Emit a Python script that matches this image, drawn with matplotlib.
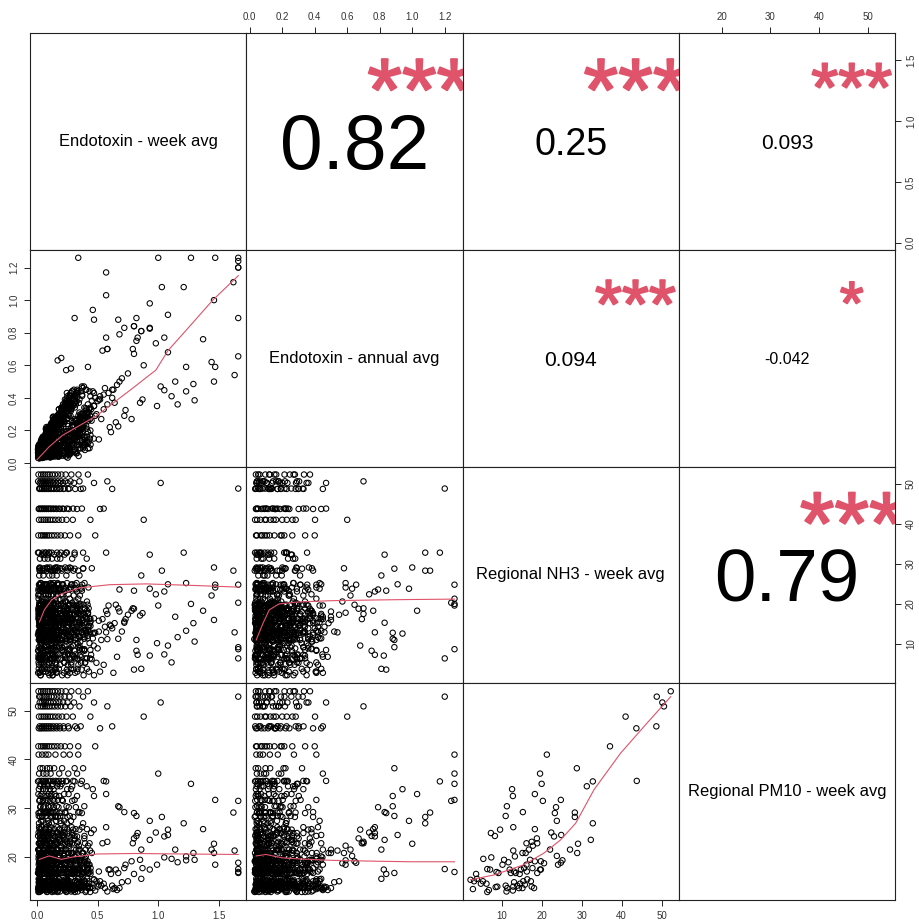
import matplotlib.pyplot as plt
from matplotlib.transforms import offset_copy
from matplotlib.font_manager import FontProperties
import matplotlib.patheffects as pe
import numpy as np

plt.rcParams['font.family'] = ['Liberation Sans', 'DejaVu Sans']

labels = ['Endotoxin - week avg', 'Endotoxin - annual avg',
          'Regional NH3 - week avg', 'Regional PM10 - week avg']

# regional weekly NH3 and PM10
nh3_week = [52.3, 48.8, 50.2, 50.6, 41.0, 43.7, 48.7, 37.1, 43.8, 21.3,
            28.8, 19.6, 31.3, 32.8, 20.0, 12.6, 12.8, 18.3, 24.8, 11.3,
            11.0, 15.3, 20.3, 23.6, 23.3, 23.8, 28.3, 28.3, 32.8, 32.3,
            29.1, 27.1, 24.9, 23.1, 22.4, 18.3, 12.9, 7.3, 8.3, 9.6,
            16.2, 17.5, 18.9, 18.8, 22.1, 24.1, 24.8, 25.2, 23.8, 19.8,
            20.6, 28.9, 17.8, 16.8, 15.2, 16.0, 12.9, 13.3, 10.6, 11.7,
            10.2, 5.4, 7.4, 17.1, 17.7, 18.3, 16.2, 15.6, 19.8, 18.9,
            14.8, 14.5, 13.1, 13.5, 12.3, 12.0, 9.2, 8.7, 6.4, 7.1,
            3.6, 3.8, 2.2, 3.1, 2.8, 5.3, 4.8, 6.2, 6.8, 6.4,
            8.9, 8.5, 11.0, 11.4, 11.2, 12.9, 13.1, 12.8, 13.9, 14.6,
            14.3, 15.4, 15.8, 15.2, 16.4, 17.3, 17.5, 18.1, 16.3, 19.6]
pm10_week = [54.0, 52.9, 51.7, 50.9, 48.8, 46.4, 46.8, 42.7, 35.6, 41.0,
             38.2, 37.1, 34.5, 35.5, 35.0, 33.9, 32.5, 32.9, 31.7, 30.4,
             28.4, 29.2, 31.5, 30.2, 29.0, 27.4, 29.1, 28.2, 26.9, 23.5,
             22.7, 21.5, 24.5, 24.2, 25.0, 25.7, 26.1, 24.9, 24.3, 25.6,
             22.8, 23.1, 22.8, 23.8, 21.5, 18.4, 18.8, 19.3, 20.2, 19.1,
             18.7, 20.8, 22.3, 21.5, 20.8, 20.8, 21.3, 20.1, 19.4, 18.9,
             18.4, 19.6, 19.9, 19.4, 17.7, 19.1, 18.4, 17.7, 17.4, 16.7,
             17.4, 16.5, 17.0, 16.7, 16.7, 17.4, 16.7, 16.9, 17.5, 17.4,
             16.5, 15.5, 15.3, 15.0, 13.4, 15.0, 14.5, 14.5, 13.2, 12.8,
             13.9, 13.8, 14.1, 13.6, 12.9, 13.9, 14.8, 13.1, 14.1, 14.5,
             13.6, 15.0, 14.3, 13.6, 15.4, 15.0, 13.9, 13.6, 17.0, 17.4]

# site endotoxin for each week: weekly value and the site's annual average
endo_week_obs = [
    [0.012, 0.034, 0.051, 0.068, 0.087, 0.104, 0.126, 0.148, 0.173, 0.201, 0.236, 0.283, 0.342, 0.42],
    [0.018, 0.027, 0.045, 0.063, 0.079, 0.097, 0.118, 0.139, 0.167, 0.194, 0.226, 0.268, 0.38, 1.66],
    [0.022, 0.039, 0.057, 0.074, 0.092, 0.111, 0.133, 0.158, 0.184, 0.215, 0.252, 0.305, 0.47, 1.02],
    [0.009, 0.031, 0.048, 0.066, 0.084, 0.102, 0.122, 0.145, 0.171, 0.198, 0.233, 0.276, 0.35, 0.58],
    [0.016, 0.036, 0.054, 0.071, 0.089, 0.108, 0.129, 0.152, 0.178, 0.207, 0.243, 0.295, 0.44, 0.88],
    [0.014, 0.029, 0.043, 0.061, 0.077, 0.095, 0.115, 0.137, 0.162, 0.189, 0.221, 0.262, 0.33, 0.52],
    [0.021, 0.041, 0.059, 0.076, 0.094, 0.113, 0.136, 0.161, 0.187, 0.218, 0.257, 0.315, 0.36, 0.62],
    [0.011, 0.033, 0.049, 0.065, 0.082, 0.099, 0.121, 0.143, 0.168, 0.196, 0.229, 0.272, 0.34, 0.48],
    [0.019, 0.037, 0.055, 0.072, 0.091, 0.109, 0.131, 0.154, 0.181, 0.211, 0.247, 0.298, 0.37, 0.55],
    [0.013, 0.042, 0.071, 0.094, 0.152, 0.219, 0.27, 0.34],
    [0.026, 0.047, 0.083, 0.106, 0.141, 0.207, 0.38, 0.31],
    [0.017, 0.052, 0.078, 0.112, 0.183, 0.258, 0.33, 1.00],
    [0.024, 0.061, 0.089, 0.123, 0.166, 0.192, 0.29, 0.41],
    [0.008, 0.046, 0.068, 0.101, 0.165, 0.238, 0.31, 0.57],
    [0.032, 0.057, 0.084, 0.129, 0.174, 0.203, 0.36, 1.27],
    [0.015, 0.049, 0.073, 0.106, 0.137, 0.249, 0.28, 0.46],
    [0.028, 0.062, 0.087, 0.114, 0.158, 0.182, 0.33, 0.47],
    [0.011, 0.038, 0.096, 0.119, 0.146, 0.224, 0.26, 0.57],
    [0.023, 0.053, 0.076, 0.131, 0.171, 0.206, 0.31, 1.47],
    [0.029, 0.058, 0.091, 0.114, 0.163, 0.243, 0.39, 0.67],
    [0.014, 0.044, 0.072, 0.125, 0.154, 0.191, 0.27, 0.82],
    [0.031, 0.066, 0.093, 0.118, 0.152, 0.232, 0.35, 0.72],
    [0.019, 0.048, 0.086, 0.109, 0.142, 0.213, 0.29, 1.66],
    [0.026, 0.051, 0.102, 0.138, 0.177, 0.262, 0.32, 0.68],
    [0.012, 0.063, 0.081, 0.116, 0.186, 0.234, 0.37, 0.80],
    [0.034, 0.047, 0.091, 0.157, 0.193, 0.223, 0.28, 0.93],
    [0.021, 0.056, 0.081, 0.128, 0.137, 0.203, 0.34, 1.62],
    [0.027, 0.043, 0.114, 0.148, 0.172, 0.251, 0.30, 1.03],
    [0.016, 0.072, 0.097, 0.121, 0.196, 0.246, 0.38, 1.21],
    [0.039, 0.061, 0.089, 0.143, 0.181, 0.227, 0.31, 0.93],
    [0.022, 0.082, 0.107, 0.153, 0.167, 0.232, 0.27, 1.46],
    [0.018, 0.052, 0.101, 0.126, 0.162, 0.242, 0.35, 0.86],
    [0.024, 0.064, 0.078, 0.112, 0.183, 0.214, 0.29, 1.08],
    [0.036, 0.049, 0.093, 0.151, 0.178, 0.224, 0.33, 1.05],
    [0.013, 0.073, 0.096, 0.132, 0.168, 0.202, 0.26, 0.98],
    [0.021, 0.063, 0.094, 0.142, 0.187, 0.25, 1.37, 0.318, 0.412],
    [0.017, 0.038, 0.076, 0.113, 0.167, 0.23, 0.57, 0.286, 0.372],
    [0.026, 0.052, 0.087, 0.124, 0.161, 0.29, 0.83, 0.227, 0.446],
    [0.009, 0.044, 0.091, 0.135, 0.209, 0.31, 0.82, 0.264, 0.391],
    [0.031, 0.071, 0.104, 0.182, 0.226, 0.35, 1.08, 0.297, 0.468],
    [0.014, 0.046, 0.082, 0.121, 0.214, 0.54, 0.29, 0.176, 0.433],
    [0.028, 0.066, 0.097, 0.151, 0.272, 0.58, 0.19, 0.338, 0.244],
    [0.019, 0.032, 0.073, 0.107, 0.144, 0.79, 0.33, 0.258, 0.396],
    [0.024, 0.057, 0.088, 0.132, 0.243, 0.80, 0.39, 0.192, 0.311],
    [0.011, 0.027, 0.092, 0.116, 0.302, 1.44, 0.21, 0.353, 0.168],
    [0.034, 0.042, 0.078, 0.126, 0.362, 1.47, 0.23, 0.281, 0.424],
    [0.016, 0.061, 0.083, 0.167, 0.281, 1.66, 0.12, 0.212, 0.373],
    [0.027, 0.033, 0.112, 0.139, 0.392, 1.23, 0.17, 0.247, 0.326],
    [0.013, 0.052, 0.074, 0.143, 0.312, 0.17, 0.22, 0.366, 0.188],
    [0.022, 0.026, 0.081, 0.106, 0.352, 0.20, 0.14, 0.273, 0.417],
    [0.035, 0.047, 0.122, 0.155, 0.412, 0.24, 0.09, 0.318, 0.229],
    [0.018, 0.062, 0.086, 0.152, 0.452, 0.28, 0.19, 0.254, 0.381],
    [0.029, 0.036, 0.103, 0.128, 0.263, 0.42, 0.07, 0.345, 0.197],
    [0.012, 0.053, 0.137, 0.172, 0.323, 1.14, 0.11, 0.236, 0.402],
    [0.025, 0.029, 0.093, 0.117, 0.372, 1.29, 0.16, 0.291, 0.219],
    [0.037, 0.043, 0.121, 0.148, 0.293, 1.46, 0.08, 0.379, 0.262],
    [0.015, 0.067, 0.084, 0.163, 0.343, 1.63, 0.20, 0.227, 0.438],
    [0.023, 0.034, 0.114, 0.136, 0.402, 1.23, 0.13, 0.309, 0.184],
    [0.032, 0.056, 0.073, 0.146, 0.274, 1.30, 0.10, 0.357, 0.241],
    [0.019, 0.024, 0.082, 0.127, 0.353, 1.16, 0.18, 0.269, 0.392],
    [0.028, 0.041, 0.126, 0.157, 0.433, 0.99, 0.12, 0.203, 0.334],
    [0.013, 0.061, 0.097, 0.152, 0.225, 1.11, 0.283, 0.398],
    [0.034, 0.039, 0.102, 0.134, 0.256, 1.05, 0.317, 0.176],
    [0.021, 0.052, 0.091, 0.132, 0.302, 0.85, 0.21, 0.362, 0.248],
    [0.017, 0.025, 0.093, 0.116, 0.382, 0.87, 0.15, 0.236, 0.419],
    [0.036, 0.043, 0.123, 0.141, 0.253, 0.78, 0.09, 0.327, 0.193],
    [0.014, 0.062, 0.081, 0.163, 0.323, 0.73, 0.18, 0.271, 0.407],
    [0.027, 0.031, 0.112, 0.138, 0.442, 0.72, 0.14, 0.219, 0.351],
    [0.021, 0.054, 0.074, 0.142, 0.263, 0.65, 0.11, 0.384, 0.297],
    [0.011, 0.023, 0.087, 0.124, 0.333, 0.67, 0.19, 0.249, 0.426],
    [0.038, 0.046, 0.121, 0.154, 0.293, 0.60, 0.08, 0.352, 0.215],
    [0.016, 0.063, 0.096, 0.152, 0.373, 0.61, 0.17, 0.288, 0.441],
    [0.029, 0.032, 0.103, 0.127, 0.242, 0.51, 0.13, 0.318, 0.176],
    [0.022, 0.051, 0.134, 0.164, 0.313, 0.42, 0.10, 0.237, 0.389],
    [0.008, 0.024, 0.092, 0.118, 0.222, 0.38, 0.16, 0.302, 0.263],
    [0.033, 0.044, 0.122, 0.147, 0.343, 0.225, 0.07, 0.274, 0.416],
    [0.015, 0.061, 0.084, 0.163, 0.282, 1.66, 0.14, 0.342, 0.206],
    [0.026, 0.033, 0.113, 0.136, 0.392, 1.66, 0.09, 0.259, 0.371],
    [0.019, 0.052, 0.072, 0.144, 0.272, 1.66, 0.20, 0.329, 0.412],
    [0.012, 0.023, 0.083, 0.126, 0.352, 0.93, 0.15, 0.231, 0.298],
    [0.037, 0.042, 0.122, 0.153, 0.302, 0.80, 0.11, 0.367, 0.246],
    [0.014, 0.063, 0.094, 0.151, 0.412, 0.86, 0.18, 0.279, 0.335],
    [0.028, 0.031, 0.102, 0.127, 0.252, 0.47, 0.13, 0.384, 0.207],
    [0.022, 0.052, 0.131, 0.162, 0.332, 0.52, 0.07, 0.251, 0.428],
    [0.009, 0.021, 0.093, 0.117, 0.223, 0.63, 0.16, 0.314, 0.271],
    [0.032, 0.043, 0.122, 0.149, 0.363, 0.49, 0.10, 0.226, 0.395],
    [0.016, 0.058, 0.087, 0.158, 0.282, 0.55, 0.19, 0.341, 0.253],
    [0.024, 0.034, 0.108, 0.139, 0.342, 0.45, 0.12, 0.276, 0.187],
    [0.019, 0.047, 0.068, 0.142, 0.232, 0.66, 0.09, 0.367, 0.304],
    [0.011, 0.019, 0.081, 0.124, 0.312, 0.40, 0.17, 0.243, 0.438],
    [0.035, 0.044, 0.115, 0.19, 0.27, 0.50, 0.13, 0.352, 0.214],
    [0.013, 0.062, 0.085, 0.152, 0.35, 0.44, 0.21, 0.268, 0.387],
    [0.028, 0.033, 0.098, 0.205, 0.26, 0.53, 0.14, 0.311, 0.173],
    [0.021, 0.052, 0.132, 0.175, 0.32, 0.46, 0.08, 0.239, 0.418],
    [0.018, 0.024, 0.088, 0.145, 0.24, 0.58, 0.19, 0.336, 0.282],
    [0.042, 0.047, 0.118, 0.072, 0.29, 0.41, 0.12, 0.374, 0.226],
    [0.014, 0.058, 0.162, 0.225, 0.37, 0.70, 0.10, 0.257, 0.329],
    [0.033, 0.036, 0.108, 0.128, 0.23, 0.48, 0.17, 0.405, 0.294],
    [0.026, 0.048, 0.142, 0.21, 0.30, 0.62, 0.11, 0.218, 0.361],
    [0.022, 0.027, 0.082, 0.155, 0.26, 0.43, 0.18, 0.345, 0.197],
    [0.038, 0.043, 0.122, 0.095, 0.33, 0.56, 0.15, 0.286, 0.421],
    [0.017, 0.064, 0.148, 0.27, 0.21, 0.39, 0.09, 0.315, 0.246],
    [0.027, 0.031, 0.102, 0.185, 0.28, 0.51, 0.14, 0.377, 0.223],
    [0.023, 0.053, 0.128, 0.112, 0.35, 0.64, 0.20, 0.262, 0.436],
    [0.016, 0.025, 0.092, 0.235, 0.25, 0.47, 0.12, 0.339, 0.181],
    [0.044, 0.039, 0.124, 0.165, 0.31, 0.75, 0.10, 0.242, 0.392],
    [0.012, 0.061, 0.158, 0.098, 0.27, 0.42, 0.19, 0.364, 0.288],
    [0.031, 0.035, 0.112, 0.245, 0.36, 0.68, 0.13, 0.214, 0.327],
    [0.019, 0.049, 0.138, 0.078, 0.24, 0.44, 0.16, 0.296, 0.411],
    [0.024, 0.029, 0.078, 0.195, 0.32, 0.59, 0.11, 0.257, 0.343],
]
endo_annual_obs = [
    [0.052, 0.121, 0.038, 0.163, 0.096, 0.214, 0.061, 0.278, 0.152, 0.334, 0.122, 0.371, 0.247, 0.27],
    [0.094, 0.036, 0.137, 0.052, 0.192, 0.113, 0.041, 0.256, 0.078, 0.214, 0.326, 0.133, 0.30, 1.20],
    [0.041, 0.106, 0.072, 0.043, 0.201, 0.138, 0.285, 0.057, 0.232, 0.103, 0.361, 0.186, 0.35, 0.47],
    [0.083, 0.047, 0.162, 0.081, 0.044, 0.217, 0.092, 0.176, 0.061, 0.304, 0.143, 0.291, 0.18, 0.70],
    [0.033, 0.101, 0.147, 0.046, 0.162, 0.228, 0.066, 0.283, 0.127, 0.263, 0.093, 0.402, 0.20, 0.60],
    [0.072, 0.038, 0.154, 0.113, 0.221, 0.047, 0.187, 0.244, 0.091, 0.156, 0.301, 0.162, 0.44, 0.39],
    [0.058, 0.034, 0.132, 0.171, 0.066, 0.192, 0.118, 0.283, 0.124, 0.331, 0.227, 0.171, 0.30, 0.45],
    [0.044, 0.077, 0.123, 0.039, 0.152, 0.092, 0.213, 0.068, 0.197, 0.262, 0.106, 0.341, 0.19, 0.40],
    [0.103, 0.052, 0.098, 0.171, 0.041, 0.137, 0.234, 0.083, 0.211, 0.145, 0.348, 0.221, 0.47, 0.33],
    [0.082, 0.041, 0.173, 0.063, 0.272, 0.124, 0.41, 1.26],
    [0.037, 0.126, 0.052, 0.208, 0.097, 0.322, 0.22, 0.89],
    [0.101, 0.067, 0.194, 0.044, 0.178, 0.088, 0.45, 1.26],
    [0.043, 0.151, 0.083, 0.236, 0.072, 0.267, 0.12, 0.28],
    [0.064, 0.033, 0.151, 0.212, 0.071, 0.353, 0.23, 1.17],
    [0.136, 0.048, 0.112, 0.061, 0.297, 0.154, 0.29, 1.26],
    [0.038, 0.147, 0.061, 0.182, 0.113, 0.273, 0.33, 0.94],
    [0.091, 0.037, 0.196, 0.054, 0.214, 0.302, 0.16, 0.88],
    [0.052, 0.118, 0.042, 0.227, 0.148, 0.257, 0.07, 1.03],
    [0.111, 0.072, 0.203, 0.046, 0.093, 0.313, 0.41, 1.26],
    [0.046, 0.153, 0.071, 0.163, 0.251, 0.194, 0.27, 0.88],
    [0.098, 0.036, 0.142, 0.252, 0.173, 0.067, 0.19, 0.89],
    [0.059, 0.127, 0.046, 0.092, 0.243, 0.124, 0.39, 0.83],
    [0.073, 0.151, 0.177, 0.034, 0.121, 0.283, 0.14, 1.24],
    [0.035, 0.094, 0.202, 0.073, 0.188, 0.056, 0.36, 0.79],
    [0.067, 0.126, 0.058, 0.143, 0.098, 0.341, 0.24, 0.84],
    [0.128, 0.043, 0.087, 0.227, 0.049, 0.168, 0.43, 0.98],
    [0.044, 0.132, 0.184, 0.063, 0.282, 0.097, 0.17, 1.11],
    [0.086, 0.031, 0.139, 0.201, 0.066, 0.278, 0.39, 1.08],
    [0.091, 0.058, 0.222, 0.043, 0.224, 0.131, 0.11, 1.08],
    [0.042, 0.112, 0.071, 0.254, 0.122, 0.051, 0.26, 0.83],
    [0.063, 0.201, 0.042, 0.117, 0.287, 0.364, 0.08, 1.00],
    [0.109, 0.084, 0.163, 0.053, 0.092, 0.197, 0.31, 0.81],
    [0.036, 0.133, 0.049, 0.211, 0.161, 0.073, 0.44, 0.91],
    [0.113, 0.047, 0.212, 0.089, 0.291, 0.142, 0.13, 0.77],
    [0.047, 0.168, 0.067, 0.171, 0.043, 0.247, 0.38, 0.735],
    [0.092, 0.036, 0.182, 0.063, 0.233, 0.14, 0.76, 0.38, 0.21],
    [0.046, 0.124, 0.092, 0.211, 0.059, 0.33, 0.77, 0.17, 0.42],
    [0.081, 0.043, 0.196, 0.103, 0.268, 0.19, 0.77, 0.29, 0.33],
    [0.035, 0.122, 0.051, 0.232, 0.148, 0.41, 0.75, 0.09, 0.26],
    [0.102, 0.066, 0.187, 0.043, 0.258, 0.23, 0.68, 0.36, 0.15],
    [0.041, 0.139, 0.133, 0.077, 0.294, 0.69, 0.12, 0.27, 0.44],
    [0.092, 0.049, 0.214, 0.176, 0.063, 0.70, 0.26, 0.23, 0.38],
    [0.064, 0.115, 0.037, 0.228, 0.192, 0.70, 0.17, 0.34, 0.12],
    [0.043, 0.134, 0.177, 0.053, 0.301, 0.67, 0.24, 0.11, 0.37],
    [0.097, 0.041, 0.169, 0.243, 0.112, 0.62, 0.33, 0.18, 0.24],
    [0.051, 0.144, 0.102, 0.039, 0.211, 0.59, 0.35, 0.41, 0.26],
    [0.086, 0.041, 0.212, 0.074, 0.354, 0.655, 0.19, 0.31, 0.14],
    [0.042, 0.089, 0.046, 0.268, 0.143, 0.59, 0.27, 0.08, 0.43],
    [0.104, 0.038, 0.121, 0.224, 0.083, 0.63, 0.29, 0.22, 0.11],
    [0.031, 0.107, 0.213, 0.059, 0.226, 0.645, 0.18, 0.35, 0.28],
    [0.073, 0.043, 0.194, 0.266, 0.132, 0.57, 0.14, 0.16, 0.34],
    [0.047, 0.131, 0.051, 0.104, 0.383, 0.58, 0.29, 0.07, 0.22],
    [0.043, 0.086, 0.182, 0.164, 0.048, 0.59, 0.11, 0.37, 0.13],
    [0.066, 0.049, 0.174, 0.043, 0.262, 0.50, 0.21, 0.19, 0.45],
    [0.033, 0.101, 0.074, 0.238, 0.412, 0.485, 0.12, 0.26, 0.06],
    [0.127, 0.052, 0.227, 0.094, 0.156, 0.50, 0.13, 0.09, 0.35],
    [0.057, 0.096, 0.141, 0.263, 0.043, 0.54, 0.34, 0.17, 0.27],
    [0.092, 0.041, 0.203, 0.073, 0.337, 0.44, 0.06, 0.41, 0.19],
    [0.041, 0.143, 0.104, 0.047, 0.196, 0.385, 0.18, 0.14, 0.38],
    [0.095, 0.063, 0.037, 0.149, 0.269, 0.36, 0.23, 0.42, 0.11],
    [0.054, 0.123, 0.203, 0.214, 0.091, 0.35, 0.07, 0.32, 0.24],
    [0.108, 0.042, 0.133, 0.247, 0.061, 0.41, 0.19, 0.29],
    [0.041, 0.132, 0.078, 0.112, 0.296, 0.447, 0.15, 0.23],
    [0.077, 0.036, 0.187, 0.046, 0.172, 0.37, 0.31, 0.44, 0.09],
    [0.048, 0.102, 0.062, 0.201, 0.243, 0.39, 0.11, 0.18, 0.36],
    [0.145, 0.053, 0.084, 0.178, 0.033, 0.27, 0.16, 0.38, 0.29],
    [0.053, 0.109, 0.192, 0.061, 0.262, 0.325, 0.24, 0.13, 0.45],
    [0.096, 0.046, 0.157, 0.267, 0.113, 0.29, 0.05, 0.34, 0.21],
    [0.062, 0.153, 0.042, 0.123, 0.331, 0.25, 0.17, 0.16, 0.07],
    [0.032, 0.094, 0.198, 0.049, 0.184, 0.225, 0.29, 0.27, 0.13],
    [0.136, 0.039, 0.082, 0.248, 0.232, 0.22, 0.12, 0.09, 0.31],
    [0.052, 0.134, 0.166, 0.073, 0.302, 0.19, 0.25, 0.23, 0.17],
    [0.113, 0.057, 0.063, 0.214, 0.152, 0.145, 0.28, 0.42, 0.04],
    [0.039, 0.141, 0.112, 0.288, 0.072, 0.09, 0.18, 0.31, 0.26],
    [0.085, 0.045, 0.169, 0.043, 0.285, 0.10, 0.23, 0.14, 0.39],
    [0.042, 0.122, 0.213, 0.101, 0.232, 0.06, 0.16, 0.37, 0.12],
    [0.089, 0.044, 0.173, 0.052, 0.331, 0.89, 0.08, 0.25, 0.33],
    [0.047, 0.117, 0.091, 0.173, 0.122, 1.26, 0.19, 0.38, 0.18],
    [0.102, 0.038, 0.122, 0.227, 0.054, 1.20, 0.31, 0.11, 0.31],
    [0.033, 0.083, 0.153, 0.042, 0.276, 0.825, 0.14, 0.34, 0.22],
    [0.086, 0.141, 0.041, 0.139, 0.353, 0.84, 0.21, 0.17, 0.08],
    [0.051, 0.064, 0.201, 0.218, 0.162, 0.81, 0.04, 0.32, 0.44],
    [0.115, 0.082, 0.046, 0.231, 0.093, 0.35, 0.22, 0.27, 0.15],
    [0.063, 0.146, 0.114, 0.052, 0.406, 0.41, 0.18, 0.24, 0.33],
    [0.079, 0.036, 0.198, 0.146, 0.064, 0.45, 0.28, 0.12, 0.41],
    [0.051, 0.134, 0.071, 0.187, 0.242, 0.30, 0.13, 0.35, 0.08],
    [0.083, 0.041, 0.176, 0.276, 0.117, 0.42, 0.25, 0.19, 0.37],
    [0.039, 0.112, 0.067, 0.234, 0.292, 0.26, 0.21, 0.07, 0.14],
    [0.111, 0.036, 0.148, 0.093, 0.172, 0.48, 0.11, 0.28, 0.45],
    [0.032, 0.097, 0.057, 0.227, 0.341, 0.32, 0.22, 0.13, 0.29],
    [0.131, 0.081, 0.042, 0.11, 0.36, 0.38, 0.17, 0.28, 0.06],
    [0.045, 0.126, 0.175, 0.053, 0.21, 0.41, 0.34, 0.14, 0.47],
    [0.088, 0.043, 0.142, 0.31, 0.11, 0.27, 0.24, 0.41, 0.19],
    [0.101, 0.039, 0.225, 0.092, 0.43, 0.44, 0.13, 0.21, 0.31],
    [0.028, 0.113, 0.075, 0.24, 0.04, 0.36, 0.29, 0.17, 0.38],
    [0.105, 0.058, 0.219, 0.21, 0.16, 0.33, 0.05, 0.46, 0.25],
    [0.047, 0.141, 0.085, 0.19, 0.27, 0.52, 0.17, 0.12, 0.06],
    [0.123, 0.084, 0.036, 0.22, 0.39, 0.29, 0.11, 0.23, 0.18],
    [0.062, 0.153, 0.118, 0.045, 0.25, 0.40, 0.22, 0.36, 0.09],
    [0.104, 0.041, 0.198, 0.19, 0.07, 0.31, 0.33, 0.16, 0.27],
    [0.052, 0.132, 0.081, 0.195, 0.42, 0.46, 0.04, 0.34, 0.19],
    [0.097, 0.042, 0.258, 0.14, 0.26, 0.34, 0.13, 0.07, 0.43],
    [0.036, 0.109, 0.184, 0.062, 0.33, 0.39, 0.26, 0.21, 0.11],
    [0.094, 0.038, 0.042, 0.224, 0.18, 0.37, 0.30, 0.29, 0.15],
    [0.108, 0.062, 0.211, 0.15, 0.41, 0.43, 0.08, 0.24, 0.33],
    [0.049, 0.137, 0.138, 0.052, 0.27, 0.55, 0.22, 0.39, 0.16],
    [0.083, 0.041, 0.247, 0.186, 0.09, 0.28, 0.31, 0.12, 0.44],
    [0.041, 0.128, 0.069, 0.32, 0.21, 0.50, 0.14, 0.36, 0.26],
    [0.116, 0.034, 0.121, 0.192, 0.37, 0.34, 0.06, 0.18, 0.30],
    [0.033, 0.114, 0.185, 0.135, 0.06, 0.43, 0.22, 0.36, 0.11],
]

# pairwise correlations and significance for the upper panels
cor_pairs = [(0, 1), (0, 2), (0, 3), (1, 2), (1, 3), (2, 3)]
cor_values = [0.82, 0.25, 0.093, 0.094, -0.042, 0.79]
cor_stars = ['***', '***', '***', '***', '*', '***']

# loess smoothers in the lower panels, keyed by (row, col)
smooth_x = {
    (1, 0): [0.0, 0.05, 0.10, 0.21, 0.49, 0.79, 0.91, 0.98, 1.08, 1.23, 1.45, 1.66],
    (2, 0): [0.02, 0.06, 0.12, 0.20, 0.35, 0.60, 0.90, 1.30, 1.66],
    (2, 1): [0.04, 0.08, 0.12, 0.18, 0.30, 0.50, 0.80, 1.00, 1.26],
    (3, 0): [0.02, 0.10, 0.20, 0.30, 0.50, 0.80, 1.20, 1.66],
    (3, 1): [0.04, 0.10, 0.20, 0.30, 0.50, 0.80, 1.00, 1.26],
    (3, 2): [2.2, 8.1, 15.6, 20.6, 24.75, 28.5, 33.1, 39.75, 46.4, 52.3],
}
smooth_y = {
    (1, 0): [0.02, 0.06, 0.10, 0.17, 0.29, 0.46, 0.53, 0.57, 0.69, 0.815, 1.0, 1.15],
    (2, 0): [15.5, 18.5, 21.0, 22.5, 24.0, 24.8, 25.0, 24.6, 24.2],
    (2, 1): [11.0, 15.0, 18.5, 20.0, 20.5, 20.8, 21.0, 21.1, 21.2],
    (3, 0): [19.5, 20.2, 19.5, 20.0, 20.6, 20.7, 20.6, 20.5],
    (3, 1): [20.2, 20.5, 19.8, 19.6, 19.3, 19.1, 19.0, 19.0],
    (3, 2): [15.3, 16.3, 18.4, 20.8, 23.5, 26.9, 33.8, 41.3, 47.5, 52.9],
}

tick_values = [[0.0, 0.5, 1.0, 1.5],
               [0.0, 0.2, 0.4, 0.6, 0.8, 1.0, 1.2],
               [10, 20, 30, 40, 50],
               [20, 30, 40, 50]]
tick_labels = [['0.0', '0.5', '1.0', '1.5'],
               ['0.0', '0.2', '0.4', '0.6', '0.8', '1.0', '1.2'],
               ['10', '20', '30', '40', '50'],
               ['20', '30', '40', '50']]

# one row per site-week
ew, ea, nh, pm = [], [], [], []
for i in range(len(nh3_week)):
    assert len(endo_week_obs[i]) == len(endo_annual_obs[i]), i
    for w, a in zip(endo_week_obs[i], endo_annual_obs[i]):
        ew.append(w)
        ea.append(a)
        nh.append(nh3_week[i])
        pm.append(pm10_week[i])
data = [np.array(ew), np.array(ea), np.array(nh), np.array(pm)]

lims = []
for v in data:
    pad = 0.04 * (v.max() - v.min())
    lims.append((v.min() - pad, v.max() + pad))

W, H = 919, 924
fig = plt.figure(figsize=(W / 100, H / 100), dpi=100)
x0, y0 = 30 / W, 1 - 33 / H
pw, ph = 216.25 / W, 216.75 / H
red = '#DF536B'
renderer = fig.canvas.get_renderer()
fp72 = FontProperties(family=['Liberation Sans', 'DejaVu Sans'], size=72)

axes = {}
for r in range(4):
    for c in range(4):
        ax = fig.add_axes([x0 + c * pw, y0 - (r + 1) * ph, pw, ph])
        ax.set_xlim(lims[c])
        ax.set_ylim(lims[r])
        ax.set_xticks(tick_values[c])
        ax.set_xticklabels(tick_labels[c])
        ax.set_yticks(tick_values[r])
        ax.set_yticklabels(tick_labels[r])
        top = r == 0 and c % 2 == 1
        bottom = r == 3 and c % 2 == 0
        left = c == 0 and r % 2 == 1
        right = c == 3 and r % 2 == 0
        ax.tick_params(top=top, labeltop=top, bottom=bottom, labelbottom=bottom,
                       left=left, labelleft=left, right=right, labelright=right,
                       direction='out', length=4.3, width=0.7, pad=3.6,
                       labelsize=7, colors='#222222', labelcolor='#333333')
        for lab in ax.get_yticklabels():
            lab.set_rotation(90)
            lab.set_va('center')
        for sp in ax.spines.values():
            sp.set_linewidth(0.8)
            sp.set_color('#222222')
        axes[r, c] = ax

# diagonal: variable names
for i in range(4):
    axes[i, i].text(0.5, 0.5, labels[i], ha='center', va='center',
                    fontsize=11.9, transform=axes[i, i].transAxes)

# lower panels: scatter plus smoother
for r in range(4):
    for c in range(r):
        ax = axes[r, c]
        if (r, c) == (3, 2):
            ax.scatter(nh3_week, pm10_week, s=15, facecolors='none',
                       edgecolors='black', linewidths=0.75)
        else:
            ax.scatter(data[c], data[r], s=15, facecolors='none',
                       edgecolors='black', linewidths=0.75)
        ax.plot(smooth_x[r, c], smooth_y[r, c], color=red, lw=0.8)

# upper panels: correlation text sized by |r|, stars in red
panel_px = pw * W
for (i, j), val, st in zip(cor_pairs, cor_values, cor_stars):
    ax = axes[i, j]
    txt = f'{val:.2g}'
    wpx = renderer.get_text_width_height_descent(txt, fp72, ismath=False)[0]
    base_em = 0.8 * panel_px / (wpx / 100.0)
    num_em = base_em * (abs(val) + 0.3) / 1.3
    ax.text(0.5, 0.5, txt, ha='center', va='baseline', fontsize=num_em * 0.72,
            transform=offset_copy(ax.transAxes, fig=fig,
                                  y=-0.358 * num_em * 0.72, units='points'))
    t = ax.text(0.8, 0.79, st, ha='center', va='baseline', color=red,
                fontsize=base_em * 0.72, clip_on=True,
                path_effects=[pe.withStroke(linewidth=1.4, foreground=red)],
                transform=offset_copy(ax.transAxes, fig=fig,
                                      y=-0.47 * base_em * 0.72, units='points'))
    t.set_clip_path(ax.patch)

fig.savefig('out.png', dpi=100)
